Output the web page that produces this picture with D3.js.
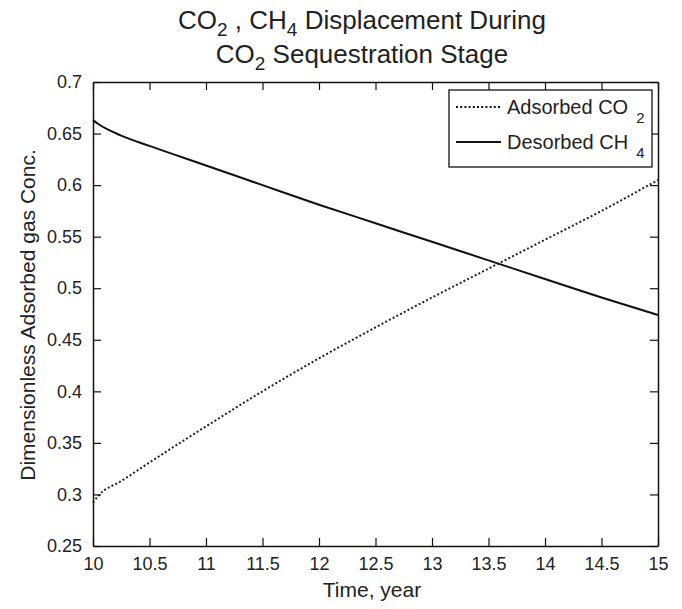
<!DOCTYPE html>
<html>
<head>
<meta charset="utf-8">
<script src="https://cdn.jsdelivr.net/npm/d3@7"></script>
<style>
  body { margin: 0; background: #fff; }
  text { font-family: "Liberation Sans", Arial, sans-serif; fill: #222; }
</style>
</head>
<body>
<svg id="chart" width="682" height="609"></svg>
<script>
// values
const years = [10, 10.05, 10.25, 10.5, 11, 11.5, 12, 12.5, 13, 13.5, 14, 14.5, 15];
const adsorbedCO2 = [0.292, 0.299, 0.313, 0.331, 0.366, 0.400, 0.432, 0.462, 0.491, 0.519, 0.547, 0.575, 0.605];
const desorbedCH4 = [0.663, 0.659, 0.648, 0.638, 0.619, 0.600, 0.581, 0.563, 0.545, 0.527, 0.509, 0.491, 0.474];
const xTicks = [10, 10.5, 11, 11.5, 12, 12.5, 13, 13.5, 14, 14.5, 15];
const yTicks = [0.25, 0.3, 0.35, 0.4, 0.45, 0.5, 0.55, 0.6, 0.65, 0.7];

const svg = d3.select('#chart');
const margin = { left: 93, top: 82, right: 24, bottom: 63 };
const W = 682, H = 609;
const plotW = W - margin.left - margin.right;
const plotH = H - margin.top - margin.bottom;
const TICK = 8;

const x = d3.scaleLinear().domain([10, 15]).range([0, plotW]);
const y = d3.scaleLinear().domain([0.25, 0.7]).range([plotH, 0]);

const g = svg.append('g').attr('transform', `translate(${margin.left},${margin.top})`);

// axes, ticks inward on all four sides (matlab box)
const fmt = d => String(d);
g.append('g').attr('transform', `translate(0,${plotH})`)
  .call(d3.axisBottom(x).tickValues(xTicks).tickFormat(fmt).tickSizeInner(-TICK).tickSizeOuter(0).tickPadding(11));
g.append('g')
  .call(d3.axisTop(x).tickValues(xTicks).tickFormat('').tickSizeInner(-TICK).tickSizeOuter(0));
g.append('g')
  .call(d3.axisLeft(y).tickValues(yTicks).tickFormat(fmt).tickSizeInner(-TICK).tickSizeOuter(0).tickPadding(11));
g.append('g').attr('transform', `translate(${plotW},0)`)
  .call(d3.axisRight(y).tickValues(yTicks).tickFormat('').tickSizeInner(-TICK).tickSizeOuter(0));

g.selectAll('.domain').attr('stroke', '#111').attr('stroke-width', 1.5);
g.selectAll('.tick line').attr('stroke', '#111').attr('stroke-width', 1.2);
g.selectAll('.tick text').attr('font-size', 18).attr('fill', '#222')
  .style('font-family', '"Liberation Sans", Arial, sans-serif');

// curves
const line = d3.line().x((d, i) => x(years[i])).y(d => y(d)).curve(d3.curveMonotoneX);
g.append('path').datum(desorbedCH4).attr('d', line)
  .attr('fill', 'none').attr('stroke', '#111').attr('stroke-width', 2);
g.append('path').datum(adsorbedCO2).attr('d', line)
  .attr('fill', 'none').attr('stroke', '#222').attr('stroke-width', 2)
  .attr('stroke-dasharray', '2,2.2');

// legend
const leg = svg.append('g').attr('transform', 'translate(449,90)');
leg.append('rect').attr('width', 203).attr('height', 77)
  .attr('fill', '#fff').attr('stroke', '#111').attr('stroke-width', 1.3);
const legItems = [
  { name: 'Adsorbed CO', sub: '2', dash: '2,2.2' },
  { name: 'Desorbed CH', sub: '4', dash: null }
];
legItems.forEach((it, i) => {
  const yy = 17 + i * 35;
  leg.append('line').attr('x1', 7).attr('x2', 52).attr('y1', yy).attr('y2', yy)
    .attr('stroke', '#111').attr('stroke-width', 2)
    .attr('stroke-dasharray', it.dash);
  const t = leg.append('text').attr('x', 58).attr('y', yy + 7).attr('font-size', 20);
  t.append('tspan').text(it.name);
  t.append('tspan').attr('dx', 8).attr('dy', 9).attr('font-size', 15).text(it.sub);
});

// title (two lines, subscripts lowered)
const cx = 362;
const l1 = svg.append('text').attr('x', cx).attr('y', 29)
  .attr('text-anchor', 'middle').attr('font-size', 26);
l1.append('tspan').text('CO');
l1.append('tspan').attr('dy', 7).attr('font-size', 19).text('2');
l1.append('tspan').attr('dy', -7).text(' , CH');
l1.append('tspan').attr('dy', 7).attr('font-size', 19).text('4');
l1.append('tspan').attr('dy', -7).text(' Displacement During');
const l2 = svg.append('text').attr('x', cx).attr('y', 63)
  .attr('text-anchor', 'middle').attr('font-size', 26);
l2.append('tspan').text('CO');
l2.append('tspan').attr('dy', 7).attr('font-size', 19).text('2');
l2.append('tspan').attr('dy', -7).text(' Sequestration Stage');

// axis labels
svg.append('text').attr('x', 372).attr('y', 597)
  .attr('text-anchor', 'middle').attr('font-size', 21).text('Time, year');
svg.append('text').attr('transform', `translate(35,315) rotate(-90)`)
  .attr('text-anchor', 'middle').attr('font-size', 21).text('Dimensionless Adsorbed gas Conc.');
</script>
</body>
</html>
